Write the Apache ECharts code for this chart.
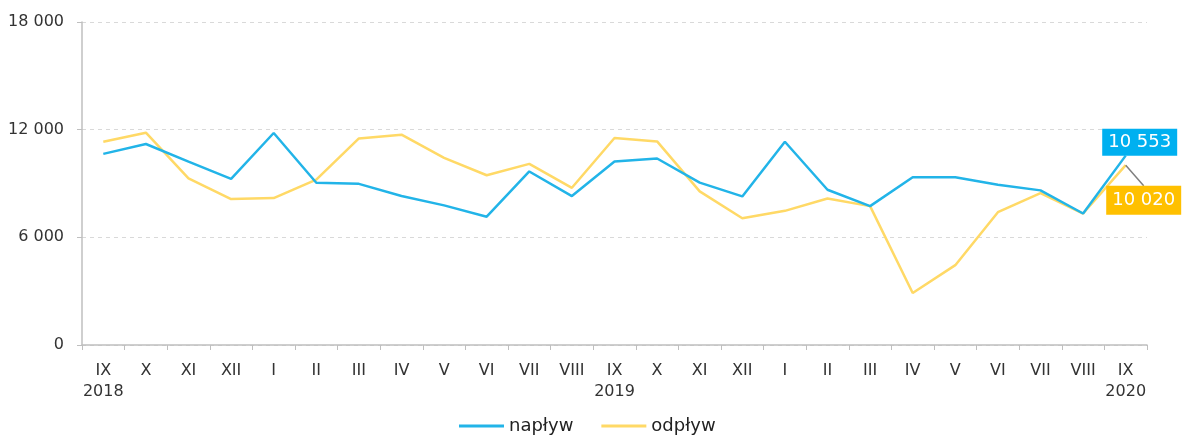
<!DOCTYPE html>
<html>
<head>
<meta charset="utf-8">
<script src="https://cdn.jsdelivr.net/npm/echarts@6/dist/echarts.min.js"></script>
<style>
html,body{margin:0;padding:0;background:#fff;}
#c{width:1183px;height:438px;}
</style>
</head>
<body>
<div id="c"></div>
<script>
var categories = ['IX\n2018','X','XI','XII','I','II','III','IV','V','VI','VII','VIII',
                  'IX\n2019','X ','XI ','XII ','I ','II ','III ','IV ','V ','VI ','VII ','VIII ','IX\n2020'];
var naplyw = [10650,11200,10220,9260,11815,9040,8980,8300,7780,7150,9670,8300,
              10224,10393,9047,8280,11327,8654,7739,9346,9346,8935,8617,7327,10553];
var odplyw = [11327,11832,9290,8131,8187,9215,11514,11720,10430,9458,10094,8760,
              11533,11346,8561,7066,7477,8168,7739,2898,4449,7402,8468,7327,10020];
var yTicks = [0, 6000, 12000, 18000];
var seriesNames = ['napływ','odpływ'];

var FONT = 'DejaVu Sans';
function fmt(v){ return String(v).replace(/\B(?=(\d{3})+(?!\d))/g, ' '); }

var blue = '#22b4e8', yellow = '#ffd966';
var last = categories.length - 1;

function withLastLabel(arr, labelOpt){
  return arr.map(function(v, i){
    if (i === last) return {value: v, label: labelOpt};
    return v;
  });
}

var chart = echarts.init(document.getElementById('c'));
chart.setOption({
  animation: false,
  grid: {left: 82, right: 36, top: 22, bottom: 93},
  legend: {
    data: seriesNames, top: 417, left: 459, padding: 0, icon: 'rect',
    itemWidth: 45, itemHeight: 3, itemGap: 28,
    textStyle: {fontFamily: FONT, fontSize: 18, color: '#222'}
  },
  xAxis: {
    type: 'category', data: categories, boundaryGap: true,
    axisLine: {lineStyle: {color: '#bfbfbf', width: 1.5}},
    axisTick: {show: true, length: 5, lineStyle: {color: '#bfbfbf'}},
    axisLabel: {interval: 0, margin: 15, fontFamily: FONT, fontSize: 16, color: '#333', lineHeight: 21,
      formatter: function(v){ return v.replace(/ $/, ''); }}
  },
  yAxis: {
    type: 'value', min: 0, max: 18000, interval: 6000,
    axisLine: {show: true, lineStyle: {color: '#bfbfbf', width: 1.5}},
    axisTick: {show: true, length: 5, lineStyle: {color: '#bfbfbf'}},
    axisLabel: {margin: 18, fontFamily: FONT, fontSize: 16, color: '#333', formatter: fmt},
    splitLine: {lineStyle: {color: '#d9d9d9', type: [4, 4]}}
  },
  series: [
    {
      name: seriesNames[0], type: 'line', symbol: 'circle', symbolSize: 0.01, showSymbol: true, z: 3,
      lineStyle: {color: blue, width: 2.5}, itemStyle: {color: blue},
      emphasis: {disabled: true},
      data: withLastLabel(naplyw, {
        show: true, position: 'top', distance: 0, offset: [14, 0],
        formatter: function(p){ return fmt(p.value); },
        backgroundColor: '#00b0f0', color: '#fff', padding: [5, 6, 4, 6],
        fontFamily: FONT, fontSize: 18
      })
    },
    {
      name: seriesNames[1], type: 'line', symbol: 'circle', symbolSize: 0.01, showSymbol: true, z: 2,
      lineStyle: {color: yellow, width: 2.5}, itemStyle: {color: yellow},
      emphasis: {disabled: true},
      labelLine: {show: true, length2: 0, smooth: false, minTurnAngle: 0, lineStyle: {color: '#7f7f7f', width: 1.5}},
      labelLayout: function(p){ return {dx: 18, dy: 35}; },
      data: withLastLabel(odplyw, {
        show: true, position: 'inside',
        formatter: function(p){ return fmt(p.value); },
        backgroundColor: '#ffc000', color: '#fff', padding: [6, 6, 5, 6],
        fontFamily: FONT, fontSize: 18
      })
    }
  ]
});
</script>
</body>
</html>
